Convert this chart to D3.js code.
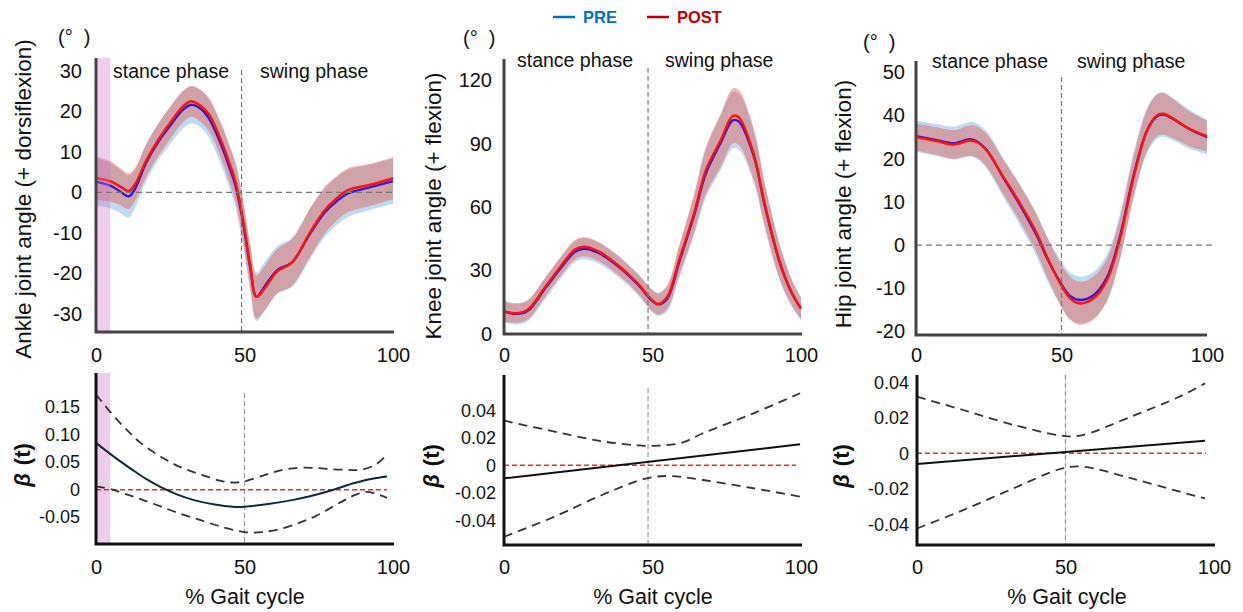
<!DOCTYPE html>
<html>
<head>
<meta charset="utf-8">
<script src="https://cdn.jsdelivr.net/npm/d3@7"></script>
<style>
  body { margin: 0; background: #fff; }
  svg text { font-family: "Liberation Sans", Arial, sans-serif; fill: #111; }
</style>
</head>
<body>
<svg id="chart" width="1243" height="612"></svg>
<script>
// ---------- joint angle curves (mean, sd) ----------
const ankleX      = [0, 5, 8, 11, 13, 17, 21, 25, 29, 32, 35, 38, 42, 45, 47, 49.5, 52, 54, 57, 61, 66, 72, 77, 81, 85, 92, 100];
const anklePost   = [3.5, 2.7, 1.5, 0.3, 1.8, 8, 13, 17.2, 21, 22.5, 21.5, 19.3, 13, 7, 2.5, -6.8, -18.4, -25.8, -23.5, -19.5, -17.3, -10, -4.4, -1.5, 0.6, 1.8, 3.5];
const anklePre    = [2.6, 1.6, 0.3, -1.0, 0.7, 7.5, 12.5, 16.5, 20.2, 21.6, 20.8, 18.3, 12, 6, 1.5, -7.5, -19, -25.8, -23, -19.2, -17.3, -10.3, -5, -2.2, -0.2, 1.2, 2.8];
const anklePostSd = [5.3, 5, 4.6, 4.4, 4.1, 4, 4, 4, 3.9, 3.8, 3.9, 4.1, 4.3, 4.6, 4.8, 5, 5.2, 5.3, 5.5, 5.5, 5.8, 6, 5.8, 5.5, 5.4, 5.2, 5.2];
const anklePreSd  = [5.8, 5.6, 5.4, 5.2, 4.8, 4.6, 4.5, 4.6, 4.6, 4.6, 4.6, 4.8, 5, 5.2, 5.4, 5.6, 5.8, 6, 6, 5.9, 6, 6.2, 6, 5.9, 5.8, 5.6, 5.6];

const kneeX       = [0, 4, 8, 14, 19, 24, 27, 32, 39, 45, 50, 52, 55, 59, 64, 68, 73, 77, 79, 84, 88, 93, 97, 100];
const kneePost    = [10.5, 9.8, 11.5, 22.4, 31.8, 40, 41.3, 38.9, 31.8, 23.9, 15.8, 14.2, 17.6, 35, 57, 77.5, 91.7, 103, 102.5, 85.4, 60, 33.4, 19.2, 12.1];
const kneePre     = [10.8, 9.5, 11, 21.8, 31, 39, 40.3, 38.2, 31.3, 23.5, 15.5, 14, 16.8, 34, 56, 76, 90.5, 101, 100.5, 84.5, 59.5, 33, 19, 12];
const kneePostSd  = [4.7, 4.5, 4.5, 4.5, 4.5, 4.5, 4.5, 4.5, 4.5, 4.6, 5, 5, 5.5, 7, 9, 11, 12.5, 13, 13, 12, 10, 8, 6, 5];
const kneePreSd   = [5.2, 5, 5, 5, 5, 5, 5, 5, 5, 5.1, 5.5, 5.5, 6, 7.5, 9.5, 11.5, 13, 13.3, 13.3, 12.4, 10.4, 8.4, 6.4, 5.4];

const hipX        = [0, 7, 13, 18.6, 21, 24.3, 30, 35.8, 41.5, 45, 49.5, 53, 56.4, 61, 65.6, 70, 74.8, 79.4, 82.8, 85, 88.5, 94, 100];
const hipPost     = [25, 24.1, 23.3, 24.2, 23.8, 21.9, 15.8, 9.6, 2.7, -2.7, -8.8, -12.3, -13.5, -12.3, -8.1, 1.2, 15.8, 26.5, 30, 30.4, 29.2, 26.9, 25.2];
const hipPre      = [25.2, 24.3, 23.6, 24.5, 24, 22, 15.6, 9.2, 2.2, -3, -8.5, -11.8, -12.7, -11.6, -7.5, 1.8, 16.2, 26.5, 29.8, 30.2, 29.1, 26.8, 25];
const hipPostSd   = [3.1, 3.2, 3.3, 3.5, 3.6, 3.8, 4, 4.2, 4.4, 4.6, 4.8, 5, 5, 5, 4.9, 4.8, 4.8, 4.8, 4.8, 4.8, 4.5, 4, 3.5];
const hipPreSd    = [3.6, 3.7, 3.8, 4, 4.1, 4.3, 4.5, 4.7, 4.9, 5.1, 5.3, 5.4, 5.4, 5.4, 5.3, 5.2, 5.2, 5.2, 5.2, 5.1, 4.9, 4.5, 4];

// ---------- beta(t) with confidence bounds ----------
const ankleBetaX  = [0, 6, 12, 17, 22, 27, 33, 40, 46, 50, 58, 66, 72, 80, 87, 93, 98];
const ankleBeta   = [0.085, 0.060, 0.037, 0.019, 0.004, -0.008, -0.019, -0.027, -0.031, -0.031, -0.026, -0.019, -0.012, 0.0, 0.012, 0.020, 0.024];
const ankleUpperX = [0, 5, 10.3, 15, 21.5, 28, 35, 42, 46, 50, 57.5, 63, 69, 75, 80, 85, 89, 94, 98];
const ankleUpper  = [0.173, 0.14, 0.109, 0.085, 0.061, 0.042, 0.028, 0.016, 0.013, 0.015, 0.028, 0.036, 0.040, 0.039, 0.037, 0.036, 0.036, 0.045, 0.064];
const ankleLowerX = [0, 5, 10, 15, 21.5, 28, 35, 42, 50, 56, 63, 69, 74, 79, 84, 88, 91, 94, 98];
const ankleLower  = [0.006, 0.001, -0.008, -0.017, -0.030, -0.043, -0.055, -0.067, -0.077, -0.077, -0.070, -0.059, -0.048, -0.033, -0.018, -0.008, -0.004, -0.007, -0.015];

const kneeBetaX   = [0, 99.7];
const kneeBeta    = [-0.0095, 0.0153];
const kneeUpperX  = [0, 17, 33, 45, 52, 60, 67, 84, 99.7];
const kneeUpper   = [0.0325, 0.0245, 0.0175, 0.0145, 0.0143, 0.0165, 0.0233, 0.0378, 0.0524];
const kneeLowerX  = [0, 17, 33, 48, 56, 67, 84, 99.7];
const kneeLower   = [-0.052, -0.0374, -0.0216, -0.0095, -0.0078, -0.0107, -0.0167, -0.0228];

const hipBetaX    = [0, 97];
const hipBeta     = [-0.006, 0.0071];
const hipUpperX   = [0, 15.5, 32.5, 49, 55, 72, 88.5, 97];
const hipUpper    = [0.0319, 0.0244, 0.016, 0.0099, 0.0100, 0.0206, 0.032, 0.0394];
const hipLowerX   = [0, 15.5, 32.5, 49, 56, 72, 88.5, 97];
const hipLower    = [-0.0423, -0.032, -0.0197, -0.0085, -0.0075, -0.014, -0.0216, -0.0254];

// ---------- ticks / labels ----------
const gaitTicks       = [0, 50, 100];
const ankleTicks      = [-30, -20, -10, 0, 10, 20, 30];
const kneeTicks       = [0, 30, 60, 90, 120];
const hipTicks        = [-20, -10, 0, 10, 20, 30, 40];
const hipTickLabels   = ['-20', '-10', '0', '10', '20', '40', '50'];  // as printed in the figure
const ankleBetaTicks  = [-0.05, 0, 0.05, 0.10, 0.15];
const ankleBetaLabels = ['-0.05', '0', '0.05', '0.10', '0.15'];
const smallBetaTicks  = [-0.04, -0.02, 0, 0.02, 0.04];
const smallBetaLabels = ['-0.04', '-0.02', '0', '0.02', '0.04'];
const sigRegion       = [0, 4.8];   // significant window on ankle

const PRE_COLOR = '#0070c0', POST_COLOR = '#c00000';

const svg = d3.select('#chart');
const curve = d3.curveCatmullRom.alpha(0.5);

function frame(g, p, color) {
    g.append('path')
        .attr('d', `M${p.x0},${p.yTop}V${p.yBottom}H${p.axisEnd}`)
        .attr('fill', 'none')
        .attr('stroke', color)
        .attr('stroke-width', 3);
}

function yAxis(g, p, y, fontSize) {
    const ax = d3.axisLeft(y).tickValues(p.ticks).tickSize(0).tickPadding(p.tickPad)
        .tickFormat((d, i) => p.tickLabels ? p.tickLabels[i] : d);
    const a = g.append('g').attr('transform', `translate(${p.x0},0)`).call(ax);
    a.select('.domain').remove();
    a.attr('font-family', null).attr('font-size', fontSize);
    a.selectAll('text').attr('fill', '#111');
}

function xAxis(g, p, x) {
    const ax = d3.axisBottom(x).tickValues(gaitTicks).tickSize(0).tickPadding(p.xPad);
    const a = g.append('g').attr('transform', `translate(0,${p.yBottom})`).call(ax);
    a.select('.domain').remove();
    a.attr('font-family', null).attr('font-size', 20);
    a.selectAll('text').attr('fill', '#111');
}

function sigRect(g, p, x) {
    g.append('rect').attr('x', x(sigRegion[0])).attr('y', p.yTop)
        .attr('width', x(sigRegion[1]) - x(sigRegion[0])).attr('height', p.yBottom - p.yTop)
        .attr('fill', 'rgba(210,120,200,0.36)');
}

function drawTop(p) {
    const g = svg.append('g');
    const x = d3.scaleLinear().domain([0, 100]).range([p.x0, p.x1]);
    const y = d3.scaleLinear().domain(p.domain).range([p.yBottom, p.yTop]);

    const band = (xs, m, sd) => d3.area().curve(curve)
        .x((d, i) => x(xs[i])).y0((d, i) => y(m[i] - sd[i])).y1((d, i) => y(m[i] + sd[i]))(m);
    const line = (xs, m) => d3.line().curve(curve).x((d, i) => x(xs[i])).y(d => y(d))(m);

    g.append('path').attr('d', band(p.xs, p.pre, p.preSd)).attr('fill', 'rgba(110,175,225,0.45)');
    g.append('path').attr('d', band(p.xs, p.post, p.postSd)).attr('fill', 'rgba(230,80,70,0.42)');
    g.append('path').attr('d', line(p.xs, p.pre)).attr('fill', 'none').attr('stroke', '#3414d4').attr('stroke-width', 2.3);
    g.append('path').attr('d', line(p.xs, p.post)).attr('fill', 'none').attr('stroke', '#ff1010').attr('stroke-width', 2.5);

    if (p.sig) sigRect(g, p, x);
    if (p.zeroEnd) {
        g.append('line').attr('x1', p.x0).attr('x2', p.zeroEnd).attr('y1', y(0)).attr('y2', y(0))
            .attr('stroke', '#777').attr('stroke-width', 1.2).attr('stroke-dasharray', '6,4');
    }
    g.append('line').attr('x1', x(p.phase)).attr('x2', x(p.phase)).attr('y1', p.phaseTop).attr('y2', p.yBottom)
        .attr('stroke', '#777').attr('stroke-width', 1.2).attr('stroke-dasharray', '5,3');

    frame(g, p, '#444');
    yAxis(g, p, y, 20);
    xAxis(g, p, x);

    g.append('text').attr('x', p.stanceX).attr('y', p.phaseTextY).attr('font-size', 19.5).text('stance phase');
    g.append('text').attr('x', p.swingX).attr('y', p.phaseTextY).attr('font-size', 19.5).text('swing phase');
    g.append('text').attr('x', p.degX).attr('y', p.degY).attr('font-size', 20)
        .attr('xml:space', 'preserve').style('white-space', 'pre').text('(°  )');
    g.append('text').attr('transform', `translate(${p.titleX},${p.titleY}) rotate(-90)`)
        .attr('text-anchor', 'middle').attr('font-size', 22.5).text(p.title);
}

function drawBottom(p) {
    const g = svg.append('g');
    const x = d3.scaleLinear().domain([0, 100]).range([p.x0, p.x1]);
    const y = d3.scaleLinear().domain(p.domain).range([p.yBottom, p.yTop]);
    const line = (xs, v) => d3.line().curve(curve).x((d, i) => x(xs[i])).y(d => y(d))(v);

    if (p.sig) sigRect(g, p, x);
    g.append('line').attr('x1', x(p.phase)).attr('x2', x(p.phase)).attr('y1', p.phaseTop).attr('y2', p.yBottom)
        .attr('stroke', '#999').attr('stroke-width', 1.2).attr('stroke-dasharray', '5,3');
    g.append('line').attr('x1', p.x0).attr('x2', p.zeroEnd).attr('y1', y(0)).attr('y2', y(0))
        .attr('stroke', '#e0302f').attr('stroke-width', 1.5).attr('stroke-dasharray', '5,3');

    g.append('path').attr('d', line(p.upperX, p.upper)).attr('fill', 'none')
        .attr('stroke', '#333').attr('stroke-width', 1.8).attr('stroke-dasharray', '9,6');
    g.append('path').attr('d', line(p.lowerX, p.lower)).attr('fill', 'none')
        .attr('stroke', '#333').attr('stroke-width', 1.8).attr('stroke-dasharray', '9,6');
    g.append('path').attr('d', line(p.betaX, p.beta)).attr('fill', 'none')
        .attr('stroke', p.solidColor).attr('stroke-width', 2);

    frame(g, p, '#111');
    yAxis(g, p, y, 18);
    xAxis(g, p, x);

    const t = g.append('text').attr('transform', `translate(${p.betaLabelX},${p.betaLabelY}) rotate(-90)`)
        .attr('text-anchor', 'middle').attr('font-size', 22).attr('font-weight', 'bold');
    t.append('tspan').attr('font-style', 'italic').text('β');
    t.append('tspan').attr('dx', 8).text('(t)');

    g.append('text').attr('x', p.gaitX).attr('y', 604).attr('text-anchor', 'middle')
        .attr('font-size', 21.5).text('% Gait cycle');
}

// ---------- top row ----------
drawTop({ x0: 96, x1: 393, axisEnd: 394, yTop: 58, yBottom: 332, domain: [-34.5, 33.2],
    ticks: ankleTicks, tickPad: 14, xPad: 16, xs: ankleX, pre: anklePre, post: anklePost,
    preSd: anklePreSd, postSd: anklePostSd, zeroEnd: 394, phase: 49, phaseTop: 70, sig: true,
    stanceX: 113, swingX: 260, phaseTextY: 78, degX: 58, degY: 44,
    title: 'Ankle joint angle (+ dorsiflexion)', titleX: 31, titleY: 199 });

drawTop({ x0: 504, x1: 801, axisEnd: 802, yTop: 59, yBottom: 334, domain: [0, 130],
    ticks: kneeTicks, tickPad: 12, xPad: 14, xs: kneeX, pre: kneePre, post: kneePost,
    preSd: kneePreSd, postSd: kneePostSd, zeroEnd: null, phase: 48.5, phaseTop: 68, sig: false,
    stanceX: 517, swingX: 665, phaseTextY: 67, degX: 463, degY: 45,
    title: 'Knee joint angle (+ flexion)', titleX: 441, titleY: 206 });

drawTop({ x0: 916, x1: 1207, axisEnd: 1207, yTop: 61, yBottom: 335, domain: [-20.8, 42.6],
    ticks: hipTicks, tickLabels: hipTickLabels, tickPad: 11, xPad: 13, xs: hipX, pre: hipPre, post: hipPost,
    preSd: hipPreSd, postSd: hipPostSd, zeroEnd: 1216, phase: 50, phaseTop: 77, sig: false,
    stanceX: 932, swingX: 1077, phaseTextY: 68, degX: 863, degY: 49,
    title: 'Hip joint angle (+ flexion)', titleX: 851, titleY: 204 });

// ---------- bottom row ----------
drawBottom({ x0: 96, x1: 393, axisEnd: 394, yTop: 373, yBottom: 544, domain: [-0.0987, 0.212],
    ticks: ankleBetaTicks, tickLabels: ankleBetaLabels, tickPad: 16, xPad: 16,
    betaX: ankleBetaX, beta: ankleBeta, upperX: ankleUpperX, upper: ankleUpper, lowerX: ankleLowerX, lower: ankleLower,
    solidColor: '#0d2b36', phase: 50, phaseTop: 393, zeroEnd: 387, sig: true,
    betaLabelX: 30, betaLabelY: 465, gaitX: 245 });

drawBottom({ x0: 504, x1: 801, axisEnd: 802, yTop: 375, yBottom: 545, domain: [-0.058, 0.0657],
    ticks: smallBetaTicks, tickLabels: smallBetaLabels, tickPad: 8, xPad: 15,
    betaX: kneeBetaX, beta: kneeBeta, upperX: kneeUpperX, upper: kneeUpper, lowerX: kneeLowerX, lower: kneeLower,
    solidColor: '#111', phase: 48.5, phaseTop: 388, zeroEnd: 796, sig: false,
    betaLabelX: 439, betaLabelY: 466, gaitX: 653 });

drawBottom({ x0: 917, x1: 1214, axisEnd: 1215, yTop: 375, yBottom: 545, domain: [-0.0516, 0.0441],
    ticks: smallBetaTicks, tickLabels: smallBetaLabels, tickPad: 8, xPad: 15,
    betaX: hipBetaX, beta: hipBeta, upperX: hipUpperX, upper: hipUpper, lowerX: hipLowerX, lower: hipLower,
    solidColor: '#111', phase: 50, phaseTop: 375, zeroEnd: 1206, sig: false,
    betaLabelX: 849, betaLabelY: 466, gaitX: 1067 });

// ---------- legend ----------
const legend = svg.append('g').attr('font-size', 16.5).attr('font-weight', 'bold');
const legendItems = [['PRE', PRE_COLOR, 553], ['POST', POST_COLOR, 647]];
legendItems.forEach(([name, color, lx]) => {
    legend.append('line').attr('x1', lx).attr('x2', lx + 22).attr('y1', 17).attr('y2', 17)
        .attr('stroke', color).attr('stroke-width', 2.5);
    legend.append('text').attr('x', lx + 30).attr('y', 23).style('fill', color).text(name);
});
</script>
</body>
</html>
